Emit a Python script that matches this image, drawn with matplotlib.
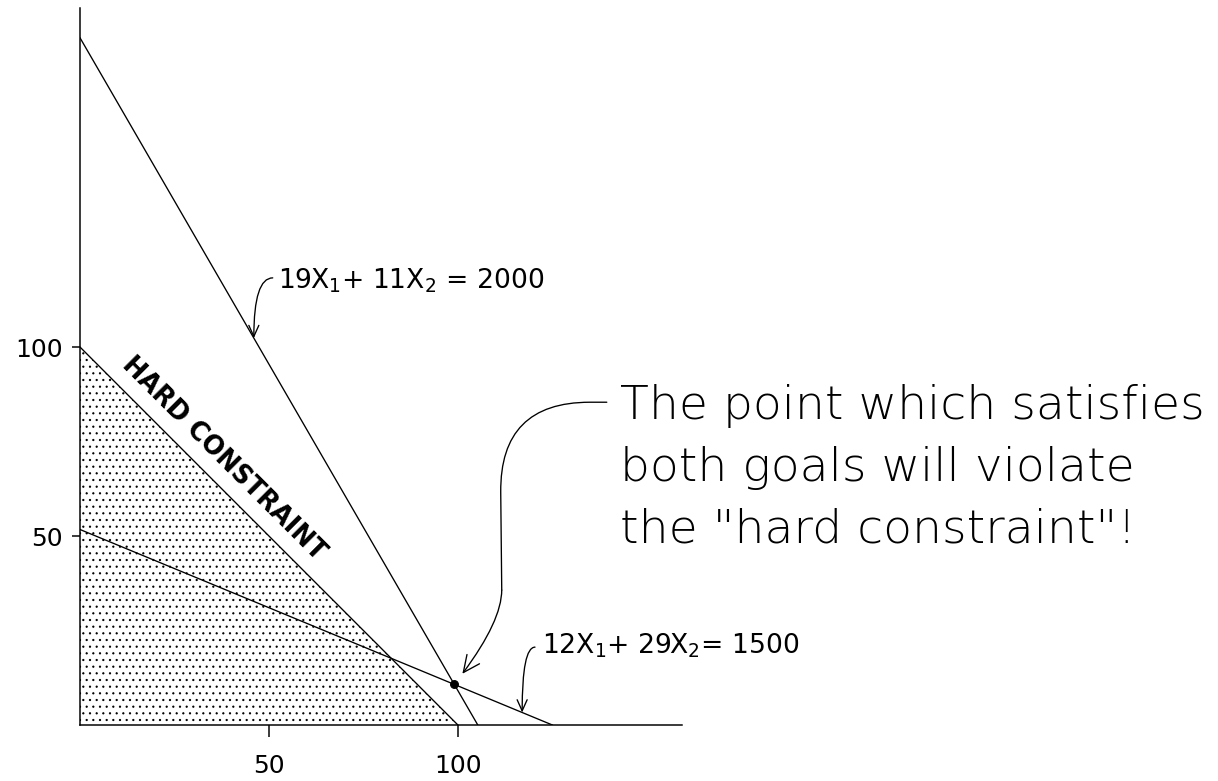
import matplotlib
matplotlib.use('Agg')
from matplotlib import pyplot as plt
import numpy as np

# goals and hard constraint, written as a*x1 + b*x2 = c
goal1 = [19, 11, 2000]
goal2 = [12, 29, 1500]
hard = [1, 1, 100]

xticks = [50, 100]
yticks = [50, 100]
xmax = 159.3
ymax = 189.7

label1 = '19X$_1$+ 11X$_2$ = 2000'
label2 = '12X$_1$+ 29X$_2$= 1500'
hard_label = 'HARD CONSTRAINT'
note = 'The point which satisfies\nboth goals will violate\nthe "hard constraint"!'


def ends(a, b, c):
    # where the line meets the two axes
    return [0, c / a], [c / b, 0]


def on_line(g, x):
    return (g[2] - g[0] * x) / g[1]


DPI = 80
fig = plt.figure(figsize=(1218 / DPI, 781 / DPI), dpi=DPI)
ax = fig.add_axes([80 / 1218, 56 / 781, 602 / 1218, 717 / 781])
ax.set_xlim(0, xmax)
ax.set_ylim(0, ymax)

#shaded feasible region
plt.rcParams['hatch.color'] = 'black'
plt.rcParams['hatch.linewidth'] = 0.8
hx, hy = ends(*hard)
ax.fill([0] + hx, [0] + hy, facecolor='white', edgecolor='black', hatch='..', lw=0)

for g in [hard, goal1, goal2]:
    gx, gy = ends(*g)
    ax.plot(gx, gy, color='black', lw=1.2)

# point that meets both goals
pt = np.linalg.solve(np.array([goal1[:2], goal2[:2]], dtype=float), [goal1[2], goal2[2]])
ax.plot(pt[0], pt[1], 'o', color='black', ms=7)

#axes look
for s in ['top', 'right']:
    ax.spines[s].set_visible(False)
for s in ['left', 'bottom']:
    ax.spines[s].set_linewidth(1.35)
ax.set_xticks(xticks)
ax.set_yticks(yticks)
ax.tick_params(axis='x', length=10.8, width=1.35, pad=15, labelsize=22.5)
ax.tick_params(axis='y', length=7.2, width=1.35, pad=8, labelsize=22.5)

small = dict(arrowstyle='->,head_length=1.0,head_width=0.45', color='black', lw=1.2,
             shrinkA=0, shrinkB=0)

# goal labels with little curly pointers
ax.annotate('', xy=(46, on_line(goal1, 46)), xytext=(51, 118.3),
            arrowprops=dict(small, connectionstyle='angle3,angleA=180,angleB=90'))
ax.text(52.4, 115.6, label1, fontsize=24, va='baseline')

ax.annotate('', xy=(117, on_line(goal2, 117)), xytext=(120.4, 20.6),
            arrowprops=dict(small, connectionstyle='angle3,angleA=180,angleB=90'))
ax.text(122.2, 19.0, label2, fontsize=24, va='baseline')

ax.text(38.1, 70.4, hard_label, fontsize=23, fontweight='bold', rotation=-45,
        rotation_mode='anchor', ha='center', va='center')

# the big note, pointer drawn in two pieces
bend = (111.6, 35.7)
ax.annotate('', xy=bend, xytext=(139.4, 85.4),
            arrowprops=dict(arrowstyle='-', color='black', lw=1.2, shrinkA=0, shrinkB=0,
                            connectionstyle='arc,angleA=180,armA=107,angleB=90,armB=0,rad=90'))
ax.annotate('', xy=(pt[0], pt[1]), xytext=bend,
            arrowprops=dict(arrowstyle='->,head_length=1.5,head_width=0.7', color='black',
                            lw=1.2, shrinkA=0, shrinkB=12,
                            connectionstyle='angle3,angleA=90,angleB=52'))
ax.text(142.9, 48.4, note, fontsize=42.5, va='baseline', ha='left',
        linespacing=1.5, fontweight='light')

plt.savefig('out.png', dpi=DPI)
